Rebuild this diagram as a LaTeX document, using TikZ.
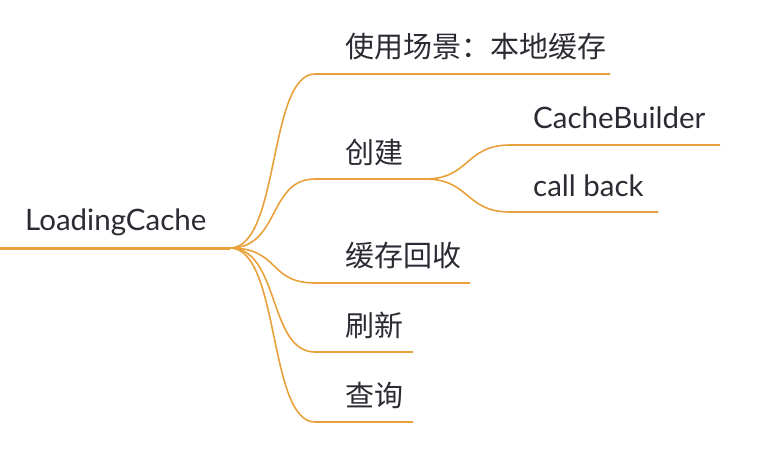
\documentclass[tikz,border=0pt]{standalone}
\usepackage{fontspec}
\setmainfont{Lato}
\newfontfamily\cjk{Noto Sans CJK SC}
\definecolor{br}{HTML}{E9A13B}
\definecolor{tx}{HTML}{2B2B33}
\begin{document}
\begin{tikzpicture}[x=1pt,y=-1pt,
  lat/.style={anchor=west,text=tx,font=\fontsize{29.5}{31}\selectfont,inner sep=0},
  zh/.style={anchor=west,text=tx,font=\cjk\fontsize{29}{31}\selectfont,inner sep=0},
  ln/.style={draw=br,line width=1.6pt},
  rootln/.style={draw=br,line width=3pt}]
\useasboundingbox (0,0) rectangle (760,452);
\node[lat] (root) at (25,222) {LoadingCache};
\coordinate (r0) at (0,248); \coordinate (r1) at (230,248);
\draw[rootln] (r0) -- (r1);
\foreach \n/\y/\e/\t in {a/74/610/使用场景：本地缓存, b/179/425/创建, c/283/470/缓存回收, d/352/413/刷新, e/422/413/查询}{
  \node[zh] (\n) at (345,\y-27) {\t};
  \coordinate (\n0) at (315,\y); \coordinate (\n1) at (\e,\y);
  \draw[ln] (r1) .. controls (280,248) and (268,\y) .. (\n0) -- (\n1);
}
\node[lat] (f) at (533,118) {CacheBuilder};
\node[lat] (g) at (533,186) {call back};
\coordinate (f0) at (510,145); \coordinate (f1) at (720,145);
\coordinate (g0) at (510,212); \coordinate (g1) at (658,212);
\draw[ln] (b1) .. controls (470,179) and (465,145) .. (f0) -- (f1);
\draw[ln] (b1) .. controls (470,179) and (465,212) .. (g0) -- (g1);
\end{tikzpicture}
\end{document}
